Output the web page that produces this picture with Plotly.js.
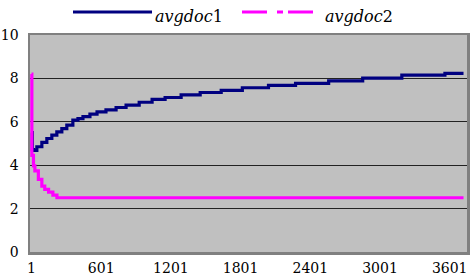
<!DOCTYPE html>
<html>
<head>
<meta charset="utf-8">
<script src="https://cdn.plot.ly/plotly-3.0.1.min.js"></script>
<style>html,body{margin:0;padding:0;background:#fff;}#chart{width:470px;height:278px;}</style>
</head>
<body>
<div id="chart"></div>
<script>
// step positions (sample index) and values
const doc1X = [1, 8, 18, 47, 90, 133, 176, 219, 262, 305, 357, 401, 444, 504, 565, 642, 729, 815, 928, 1039, 1151, 1289, 1453, 1634, 1816, 2041, 2274, 2559, 2852, 3189, 3560, 3720];
const doc1Y = [5.5, 4.72, 4.68, 4.85, 5.05, 5.23, 5.39, 5.54, 5.69, 5.85, 6.08, 6.15, 6.24, 6.35, 6.46, 6.55, 6.66, 6.77, 6.9, 7.03, 7.12, 7.24, 7.35, 7.45, 7.57, 7.68, 7.77, 7.89, 8.01, 8.15, 8.23, 8.23];
const doc2X = [1, 4, 18, 30, 60, 90, 115, 148, 185, 220, 3720];
const doc2Y = [8.2, 4.45, 3.97, 3.74, 3.35, 3.04, 2.89, 2.76, 2.62, 2.5, 2.5];
const tickVals = [1, 601, 1201, 1801, 2401, 3001, 3601];
const tickText = ['1', '601', '1201', '1801', '2401', '3001', '3601'];
const seriesNames = ['<i>avgdoc</i>1', '<i>avgdoc</i>2'];
const seriesColors = ['#000080', '#ff00ff'];

const fam = 'DejaVu Serif';
const font = {family: fam, size: 14, color: '#000'};

const traces = [
  {x: doc1X, y: doc1Y, type: 'scatter', mode: 'lines', line: {color: seriesColors[0], width: 3.2, shape: 'hv'}, name: seriesNames[0]},
  {x: doc2X, y: doc2Y, type: 'scatter', mode: 'lines', line: {color: seriesColors[1], width: 3.2, shape: 'hv'}, name: seriesNames[1]}
];

// legend drawn as paper-referenced key lines + labels (plot area: x 30..467 px, y 35..252 px)
const px = v => (v - 30) / 437;
const py = v => (252 - v) / 217;
const legendY = py(12);
const shapes = [
  {type: 'line', xref: 'paper', yref: 'paper', x0: px(73), x1: px(152), y0: legendY, y1: legendY, line: {color: seriesColors[0], width: 3}},
  {type: 'line', xref: 'paper', yref: 'paper', x0: px(242), x1: px(321), y0: legendY, y1: legendY, line: {color: seriesColors[1], width: 3, dash: '25px,10px,6px,5px'}}
];
const annotations = [
  {xref: 'paper', yref: 'paper', x: px(153), y: py(16), xanchor: 'left', yanchor: 'middle', text: seriesNames[0], showarrow: false, font: {family: fam, size: 16, color: '#000'}},
  {xref: 'paper', yref: 'paper', x: px(323), y: py(16), xanchor: 'left', yanchor: 'middle', text: seriesNames[1], showarrow: false, font: {family: fam, size: 16, color: '#000'}}
];

const layout = {
  width: 470, height: 278,
  margin: {l: 30, r: 3, t: 35, b: 26},
  paper_bgcolor: '#ffffff',
  plot_bgcolor: '#c0c0c0',
  font: font,
  showlegend: false,
  shapes: shapes,
  annotations: annotations,
  xaxis: {
    range: [-12, 3750], tickvals: tickVals, ticktext: tickText,
    showgrid: false, zeroline: false, showline: true, mirror: true, linecolor: '#808080', linewidth: 2.5,
    ticks: '', ticklabelstandoff: 2, ticklabeloverflow: 'allow', tickfont: font, fixedrange: true
  },
  yaxis: {
    range: [0, 10], dtick: 2, tick0: 0,
    showgrid: true, gridcolor: '#222', gridwidth: 1, zeroline: false,
    showline: true, mirror: true, linecolor: '#808080', linewidth: 2.5,
    ticks: '', ticklabelstandoff: 6, tickfont: font, fixedrange: true
  }
};

Plotly.newPlot('chart', traces, layout, {staticPlot: true, displayModeBar: false});
</script>
</body>
</html>
